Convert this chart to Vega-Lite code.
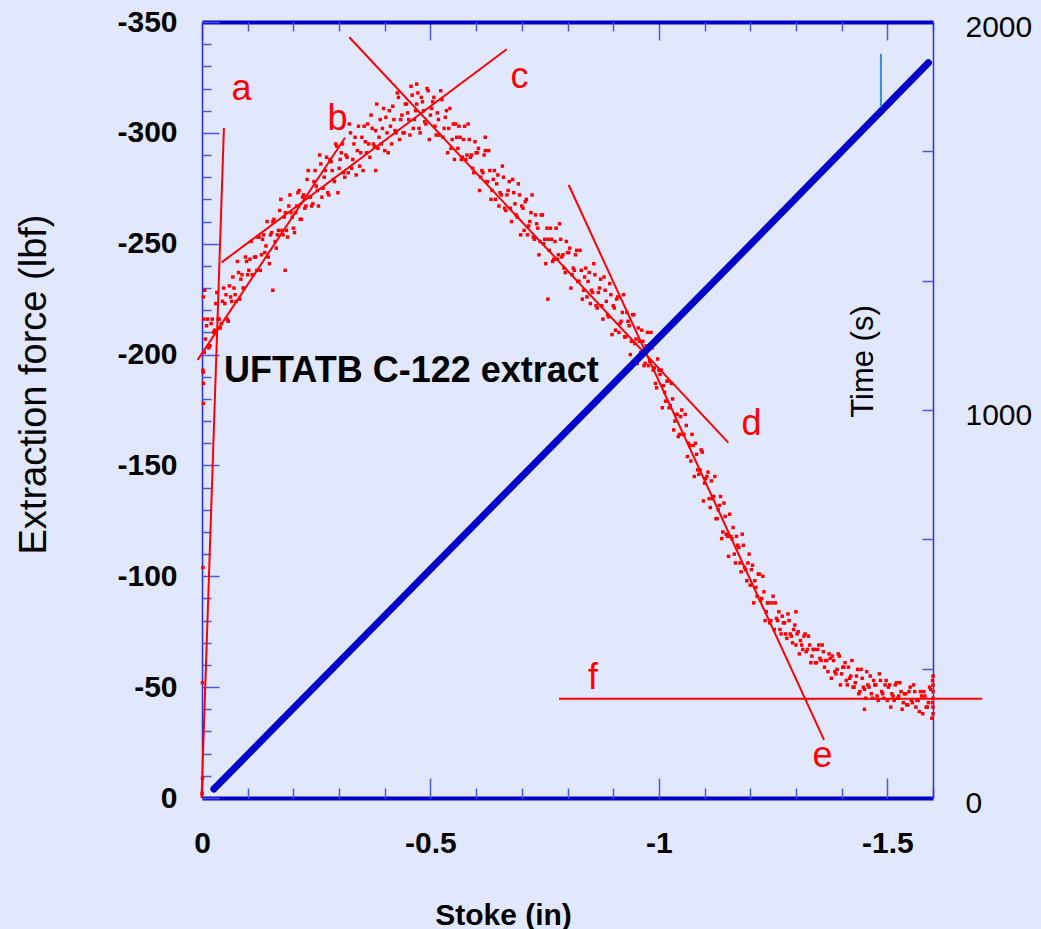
{
"$schema": "https://vega.github.io/schema/vega-lite/v6.json",
"width": 731, "height": 776,
"autosize": {"type": "none"},
"padding": {"left": 202, "top": 22, "right": 108, "bottom": 131},
"background": "#E1E8FD",
"config": {"view": {"stroke": null}, "font": "Liberation Sans", "axis": {"grid": false, "tickColor": "#4B55E6", "tickWidth": 1.5, "labelColor": "#000000", "titleColor": "#000000", "labelFont": "Liberation Sans", "titleFont": "Liberation Sans"}},
"datasets": {
"force": [
{"s":0,"f":-2},{"s":-0.001,"f":-9},{"s":-0.001,"f":-52},{"s":-0.002,"f":-104},{"s":-0.003,"f":-178},{"s":-0.003,"f":-187},{"s":-0.002,"f":-193},{"s":-0.004,"f":-216},{"s":-0.003,"f":-226},{"s":-0.006,"f":-229},
{"s":-0.155,"f":-229},{"s":-0.182,"f":-238},{"s":-0.757,"f":-225},{"s":-0.47,"f":-322},{"s":-0.38,"f":-283},{"s":-0.62,"f":-298},{"s":-1.3,"f":-84},{"s":-1.45,"f":-40},
{"s":-1.6,"f":-38},{"s":-1.6,"f":-45},{"s":-1.6,"f":-48},{"s":-1.6,"f":-51},{"s":-1.599,"f":-53},{"s":-1.6,"f":-55},{"s":-1.599,"f":-43},
{"s":-0.005,"f":-201},{"s":-0.01,"f":-213},{"s":-0.015,"f":-203},{"s":-0.02,"f":-214},{"s":-0.025,"f":-210},{"s":-0.03,"f":-223},{"s":-0.035,"f":-216},{"s":-0.04,"f":-212},{"s":-0.045,"f":-224},{"s":-0.05,"f":-223},
{"s":-0.055,"f":-216},{"s":-0.06,"f":-231},{"s":-0.065,"f":-224},{"s":-0.07,"f":-230},{"s":-0.075,"f":-224},{"s":-0.08,"f":-237},{"s":-0.085,"f":-234},{"s":-0.09,"f":-230},{"s":-0.095,"f":-244},{"s":-0.1,"f":-236},
{"s":-0.105,"f":-243},{"s":-0.11,"f":-236},{"s":-0.115,"f":-244},{"s":-0.12,"f":-238},{"s":-0.125,"f":-253},{"s":-0.13,"f":-245},{"s":-0.135,"f":-254},{"s":-0.14,"f":-249},{"s":-0.145,"f":-244},{"s":-0.15,"f":-254},
{"s":-0.155,"f":-260},{"s":-0.16,"f":-251},{"s":-0.165,"f":-254},{"s":-0.17,"f":-265},{"s":-0.175,"f":-256},{"s":-0.18,"f":-262},{"s":-0.185,"f":-256},{"s":-0.19,"f":-267},{"s":-0.195,"f":-264},{"s":-0.2,"f":-257},
{"s":-0.205,"f":-264},{"s":-0.21,"f":-273},{"s":-0.215,"f":-261},{"s":-0.22,"f":-271},{"s":-0.225,"f":-266},{"s":-0.23,"f":-279},{"s":-0.235,"f":-271},{"s":-0.24,"f":-267},{"s":-0.245,"f":-278},{"s":-0.25,"f":-276},
{"s":-0.255,"f":-267},{"s":-0.26,"f":-286},{"s":-0.265,"f":-275},{"s":-0.27,"f":-283},{"s":-0.275,"f":-273},{"s":-0.28,"f":-288},{"s":-0.285,"f":-283},{"s":-0.29,"f":-278},{"s":-0.295,"f":-294},{"s":-0.3,"f":-284},
{"s":-0.305,"f":-291},{"s":-0.31,"f":-282},{"s":-0.315,"f":-290},{"s":-0.32,"f":-282},{"s":-0.325,"f":-300},{"s":-0.33,"f":-288},{"s":-0.335,"f":-298},{"s":-0.34,"f":-292},{"s":-0.345,"f":-285},{"s":-0.35,"f":-298},
{"s":-0.355,"f":-303},{"s":-0.36,"f":-291},{"s":-0.365,"f":-295},{"s":-0.37,"f":-308},{"s":-0.375,"f":-295},{"s":-0.38,"f":-301},{"s":-0.385,"f":-293},{"s":-0.39,"f":-306},{"s":-0.395,"f":-302},{"s":-0.4,"f":-292},
{"s":-0.405,"f":-300},{"s":-0.41,"f":-310},{"s":-0.415,"f":-295},{"s":-0.42,"f":-306},{"s":-0.425,"f":-300},{"s":-0.43,"f":-316},{"s":-0.435,"f":-306},{"s":-0.44,"f":-300},{"s":-0.445,"f":-313},{"s":-0.45,"f":-309},
{"s":-0.455,"f":-299},{"s":-0.46,"f":-317},{"s":-0.465,"f":-306},{"s":-0.47,"f":-313},{"s":-0.475,"f":-302},{"s":-0.48,"f":-316},{"s":-0.485,"f":-310},{"s":-0.49,"f":-304},{"s":-0.495,"f":-319},{"s":-0.5,"f":-308},
{"s":-0.505,"f":-314},{"s":-0.51,"f":-303},{"s":-0.515,"f":-309},{"s":-0.52,"f":-299},{"s":-0.525,"f":-315},{"s":-0.53,"f":-302},{"s":-0.535,"f":-310},{"s":-0.54,"f":-302},{"s":-0.545,"f":-293},{"s":-0.55,"f":-304},
{"s":-0.555,"f":-304},{"s":-0.56,"f":-293},{"s":-0.565,"f":-298},{"s":-0.57,"f":-289},{"s":-0.575,"f":-303},{"s":-0.58,"f":-290},{"s":-0.585,"f":-297},{"s":-0.59,"f":-290},{"s":-0.595,"f":-282},{"s":-0.6,"f":-291},
{"s":-0.605,"f":-293},{"s":-0.61,"f":-280},{"s":-0.615,"f":-282},{"s":-0.62,"f":-292},{"s":-0.625,"f":-278},{"s":-0.63,"f":-283},{"s":-0.635,"f":-274},{"s":-0.64,"f":-283},{"s":-0.645,"f":-277},{"s":-0.65,"f":-267},
{"s":-0.655,"f":-272},{"s":-0.66,"f":-280},{"s":-0.665,"f":-265},{"s":-0.67,"f":-274},{"s":-0.675,"f":-266},{"s":-0.68,"f":-279},{"s":-0.685,"f":-268},{"s":-0.69,"f":-262},{"s":-0.695,"f":-272},{"s":-0.7,"f":-267},
{"s":-0.705,"f":-256},{"s":-0.71,"f":-270},{"s":-0.715,"f":-258},{"s":-0.72,"f":-264},{"s":-0.725,"f":-253},{"s":-0.73,"f":-263},{"s":-0.735,"f":-257},{"s":-0.74,"f":-251},{"s":-0.745,"f":-263},{"s":-0.75,"f":-252},
{"s":-0.755,"f":-257},{"s":-0.76,"f":-247},{"s":-0.765,"f":-252},{"s":-0.77,"f":-243},{"s":-0.775,"f":-257},{"s":-0.78,"f":-245},{"s":-0.785,"f":-252},{"s":-0.79,"f":-245},{"s":-0.795,"f":-237},{"s":-0.8,"f":-246},
{"s":-0.805,"f":-248},{"s":-0.81,"f":-236},{"s":-0.815,"f":-238},{"s":-0.82,"f":-247},{"s":-0.825,"f":-233},{"s":-0.83,"f":-238},{"s":-0.835,"f":-229},{"s":-0.84,"f":-239},{"s":-0.845,"f":-233},{"s":-0.85,"f":-223},
{"s":-0.855,"f":-228},{"s":-0.86,"f":-236},{"s":-0.865,"f":-221},{"s":-0.87,"f":-230},{"s":-0.875,"f":-222},{"s":-0.88,"f":-235},{"s":-0.885,"f":-224},{"s":-0.89,"f":-217},{"s":-0.895,"f":-227},{"s":-0.9,"f":-222},
{"s":-0.905,"f":-211},{"s":-0.91,"f":-226},{"s":-0.915,"f":-214},{"s":-0.92,"f":-219},{"s":-0.925,"f":-208},{"s":-0.93,"f":-219},{"s":-0.935,"f":-213},{"s":-0.94,"f":-206},{"s":-0.945,"f":-218},{"s":-0.95,"f":-207},
{"s":-0.955,"f":-212},{"s":-0.96,"f":-201},{"s":-0.965,"f":-206},{"s":-0.97,"f":-196},{"s":-0.975,"f":-210},{"s":-0.98,"f":-197},{"s":-0.985,"f":-203},{"s":-0.99,"f":-194},{"s":-0.995,"f":-185},{"s":-1.0,"f":-193},
{"s":-1.005,"f":-193},{"s":-1.01,"f":-186},{"s":-1.015,"f":-179},{"s":-1.02,"f":-188},{"s":-1.025,"f":-177},{"s":-1.03,"f":-180},{"s":-1.035,"f":-170},{"s":-1.04,"f":-173},{"s":-1.045,"f":-164},{"s":-1.05,"f":-175},
{"s":-1.055,"f":-164},{"s":-1.06,"f":-168},{"s":-1.065,"f":-160},{"s":-1.07,"f":-152},{"s":-1.075,"f":-159},{"s":-1.08,"f":-160},{"s":-1.085,"f":-148},{"s":-1.09,"f":-148},{"s":-1.095,"f":-156},{"s":-1.1,"f":-142},
{"s":-1.105,"f":-145},{"s":-1.11,"f":-135},{"s":-1.115,"f":-143},{"s":-1.12,"f":-136},{"s":-1.125,"f":-126},{"s":-1.13,"f":-130},{"s":-1.135,"f":-136},{"s":-1.14,"f":-120},{"s":-1.145,"f":-127},{"s":-1.15,"f":-118},
{"s":-1.155,"f":-128},{"s":-1.16,"f":-117},{"s":-1.165,"f":-110},{"s":-1.17,"f":-118},{"s":-1.175,"f":-113},{"s":-1.18,"f":-102},{"s":-1.185,"f":-114},{"s":-1.19,"f":-103},{"s":-1.195,"f":-106},{"s":-1.2,"f":-96},
{"s":-1.205,"f":-105},{"s":-1.21,"f":-98},{"s":-1.215,"f":-91},{"s":-1.22,"f":-101},{"s":-1.225,"f":-90},{"s":-1.23,"f":-93},{"s":-1.235,"f":-84},{"s":-1.24,"f":-88},{"s":-1.245,"f":-80},{"s":-1.25,"f":-91},
{"s":-1.255,"f":-88},{"s":-1.26,"f":-80},{"s":-1.265,"f":-76},{"s":-1.27,"f":-82},{"s":-1.275,"f":-79},{"s":-1.28,"f":-72},{"s":-1.285,"f":-80},{"s":-1.29,"f":-73},{"s":-1.295,"f":-76},{"s":-1.3,"f":-69},
{"s":-1.305,"f":-75},{"s":-1.31,"f":-71},{"s":-1.315,"f":-67},{"s":-1.32,"f":-74},{"s":-1.325,"f":-67},{"s":-1.33,"f":-69},{"s":-1.335,"f":-64},{"s":-1.34,"f":-67},{"s":-1.345,"f":-61},{"s":-1.35,"f":-69},
{"s":-1.355,"f":-62},{"s":-1.36,"f":-66},{"s":-1.365,"f":-62},{"s":-1.37,"f":-57},{"s":-1.375,"f":-63},{"s":-1.38,"f":-64},{"s":-1.385,"f":-57},{"s":-1.39,"f":-58},{"s":-1.395,"f":-64},{"s":-1.4,"f":-56},
{"s":-1.405,"f":-59},{"s":-1.41,"f":-53},{"s":-1.415,"f":-59},{"s":-1.42,"f":-55},{"s":-1.425,"f":-50},{"s":-1.43,"f":-52},{"s":-1.435,"f":-58},{"s":-1.44,"f":-48},{"s":-1.445,"f":-54},{"s":-1.45,"f":-49},
{"s":-1.455,"f":-57},{"s":-1.46,"f":-50},{"s":-1.465,"f":-47},{"s":-1.47,"f":-53},{"s":-1.475,"f":-51},{"s":-1.48,"f":-44},{"s":-1.485,"f":-53},{"s":-1.49,"f":-47},{"s":-1.495,"f":-51},{"s":-1.5,"f":-44},
{"s":-1.505,"f":-51},{"s":-1.51,"f":-47},{"s":-1.515,"f":-44},{"s":-1.52,"f":-52},{"s":-1.525,"f":-46},{"s":-1.53,"f":-48},{"s":-1.535,"f":-43},{"s":-1.54,"f":-47},{"s":-1.545,"f":-42},{"s":-1.55,"f":-50},
{"s":-1.555,"f":-43},{"s":-1.56,"f":-48},{"s":-1.565,"f":-44},{"s":-1.57,"f":-39},{"s":-1.575,"f":-46},{"s":-1.58,"f":-48},{"s":-1.585,"f":-41},{"s":-1.59,"f":-43},{"s":-1.595,"f":-49},{"s":-1.6,"f":-41},
{"s":-0.0025,"f":-192},{"s":-0.0075,"f":-207},{"s":-0.0125,"f":-216},{"s":-0.0175,"f":-204},{"s":-0.0225,"f":-216},{"s":-0.0275,"f":-211},{"s":-0.0325,"f":-228},{"s":-0.0375,"f":-216},{"s":-0.0425,"f":-214},{"s":-0.0475,"f":-230},
{"s":-0.0525,"f":-227},{"s":-0.0575,"f":-215},{"s":-0.0625,"f":-226},{"s":-0.0675,"f":-235},{"s":-0.0725,"f":-227},{"s":-0.0775,"f":-242},{"s":-0.0825,"f":-225},{"s":-0.0875,"f":-236},{"s":-0.0925,"f":-230},{"s":-0.0975,"f":-242},
{"s":-0.1025,"f":-238},{"s":-0.1075,"f":-251},{"s":-0.1125,"f":-236},{"s":-0.1175,"f":-244},{"s":-0.1225,"f":-253},{"s":-0.1275,"f":-238},{"s":-0.1325,"f":-252},{"s":-0.1375,"f":-246},{"s":-0.1425,"f":-260},{"s":-0.1475,"f":-241},
{"s":-0.1525,"f":-255},{"s":-0.1575,"f":-261},{"s":-0.1625,"f":-248},{"s":-0.1675,"f":-256},{"s":-0.1725,"f":-270},{"s":-0.1775,"f":-254},{"s":-0.1825,"f":-264},{"s":-0.1875,"f":-253},{"s":-0.1925,"f":-272},{"s":-0.1975,"f":-262},
{"s":-0.2025,"f":-255},{"s":-0.2075,"f":-267},{"s":-0.2125,"f":-274},{"s":-0.2175,"f":-261},{"s":-0.2225,"f":-272},{"s":-0.2275,"f":-267},{"s":-0.2325,"f":-283},{"s":-0.2375,"f":-271},{"s":-0.2425,"f":-268},{"s":-0.2475,"f":-283},
{"s":-0.2525,"f":-274},{"s":-0.2575,"f":-290},{"s":-0.2625,"f":-271},{"s":-0.2675,"f":-280},{"s":-0.2725,"f":-289},{"s":-0.2775,"f":-272},{"s":-0.2825,"f":-287},{"s":-0.2875,"f":-279},{"s":-0.2925,"f":-295},{"s":-0.2975,"f":-273},
{"s":-0.3025,"f":-288},{"s":-0.3075,"f":-295},{"s":-0.3125,"f":-280},{"s":-0.3175,"f":-289},{"s":-0.3225,"f":-304},{"s":-0.3275,"f":-284},{"s":-0.3325,"f":-295},{"s":-0.3375,"f":-281},{"s":-0.3425,"f":-303},{"s":-0.3475,"f":-291},
{"s":-0.3525,"f":-283},{"s":-0.3575,"f":-296},{"s":-0.3625,"f":-304},{"s":-0.3675,"f":-289},{"s":-0.3725,"f":-302},{"s":-0.3775,"f":-294},{"s":-0.3825,"f":-313},{"s":-0.3875,"f":-298},{"s":-0.3925,"f":-295},{"s":-0.3975,"f":-311},
{"s":-0.4025,"f":-307},{"s":-0.4075,"f":-291},{"s":-0.4125,"f":-303},{"s":-0.4175,"f":-312},{"s":-0.4225,"f":-301},{"s":-0.4275,"f":-318},{"s":-0.4325,"f":-297},{"s":-0.4375,"f":-308},{"s":-0.4425,"f":-300},{"s":-0.4475,"f":-313},
{"s":-0.4525,"f":-306},{"s":-0.4575,"f":-321},{"s":-0.4625,"f":-302},{"s":-0.4675,"f":-310},{"s":-0.4725,"f":-318},{"s":-0.4775,"f":-300},{"s":-0.4825,"f":-314},{"s":-0.4875,"f":-305},{"s":-0.4925,"f":-320},{"s":-0.4975,"f":-297},
{"s":-0.5025,"f":-311},{"s":-0.5075,"f":-316},{"s":-0.5125,"f":-299},{"s":-0.5175,"f":-306},{"s":-0.5225,"f":-319},{"s":-0.5275,"f":-298},{"s":-0.5325,"f":-307},{"s":-0.5375,"f":-291},{"s":-0.5425,"f":-311},{"s":-0.5475,"f":-297},
{"s":-0.5525,"f":-288},{"s":-0.5575,"f":-298},{"s":-0.5625,"f":-303},{"s":-0.5675,"f":-288},{"s":-0.5725,"f":-297},{"s":-0.5775,"f":-288},{"s":-0.5825,"f":-304},{"s":-0.5875,"f":-289},{"s":-0.5925,"f":-284},{"s":-0.5975,"f":-296},
{"s":-0.6025,"f":-291},{"s":-0.6075,"f":-274},{"s":-0.6125,"f":-283},{"s":-0.6175,"f":-290},{"s":-0.6225,"f":-278},{"s":-0.6275,"f":-292},{"s":-0.6325,"f":-270},{"s":-0.6375,"f":-279},{"s":-0.6425,"f":-270},{"s":-0.6475,"f":-281},
{"s":-0.6525,"f":-273},{"s":-0.6575,"f":-285},{"s":-0.6625,"f":-266},{"s":-0.6675,"f":-272},{"s":-0.6725,"f":-278},{"s":-0.6775,"f":-260},{"s":-0.6825,"f":-273},{"s":-0.6875,"f":-263},{"s":-0.6925,"f":-277},{"s":-0.6975,"f":-254},
{"s":-0.7025,"f":-266},{"s":-0.7075,"f":-269},{"s":-0.7125,"f":-254},{"s":-0.7175,"f":-260},{"s":-0.7225,"f":-272},{"s":-0.7275,"f":-252},{"s":-0.7325,"f":-259},{"s":-0.7375,"f":-245},{"s":-0.7425,"f":-263},{"s":-0.7475,"f":-250},
{"s":-0.7525,"f":-241},{"s":-0.7575,"f":-252},{"s":-0.7625,"f":-257},{"s":-0.7675,"f":-242},{"s":-0.7725,"f":-251},{"s":-0.7775,"f":-243},{"s":-0.7825,"f":-259},{"s":-0.7875,"f":-244},{"s":-0.7925,"f":-239},{"s":-0.7975,"f":-251},
{"s":-0.8025,"f":-246},{"s":-0.8075,"f":-230},{"s":-0.8125,"f":-239},{"s":-0.8175,"f":-245},{"s":-0.8225,"f":-233},{"s":-0.8275,"f":-247},{"s":-0.8325,"f":-225},{"s":-0.8375,"f":-235},{"s":-0.8425,"f":-226},{"s":-0.8475,"f":-237},
{"s":-0.8525,"f":-229},{"s":-0.8575,"f":-241},{"s":-0.8625,"f":-222},{"s":-0.8675,"f":-228},{"s":-0.8725,"f":-234},{"s":-0.8775,"f":-216},{"s":-0.8825,"f":-229},{"s":-0.8875,"f":-218},{"s":-0.8925,"f":-232},{"s":-0.8975,"f":-209},
{"s":-0.9025,"f":-221},{"s":-0.9075,"f":-225},{"s":-0.9125,"f":-210},{"s":-0.9175,"f":-215},{"s":-0.9225,"f":-227},{"s":-0.9275,"f":-208},{"s":-0.9325,"f":-215},{"s":-0.9375,"f":-200},{"s":-0.9425,"f":-218},{"s":-0.9475,"f":-205},
{"s":-0.9525,"f":-196},{"s":-0.9575,"f":-206},{"s":-0.9625,"f":-211},{"s":-0.9675,"f":-195},{"s":-0.9725,"f":-204},{"s":-0.9775,"f":-195},{"s":-0.9825,"f":-210},{"s":-0.9875,"f":-193},{"s":-0.9925,"f":-187},{"s":-0.9975,"f":-198},
{"s":-1.0025,"f":-191},{"s":-1.0075,"f":-176},{"s":-1.0125,"f":-183},{"s":-1.0175,"f":-188},{"s":-1.0225,"f":-176},{"s":-1.0275,"f":-187},{"s":-1.0325,"f":-166},{"s":-1.0375,"f":-173},{"s":-1.0425,"f":-163},{"s":-1.0475,"f":-172},
{"s":-1.0525,"f":-164},{"s":-1.0575,"f":-173},{"s":-1.0625,"f":-154},{"s":-1.0675,"f":-159},{"s":-1.0725,"f":-164},{"s":-1.0775,"f":-145},{"s":-1.0825,"f":-155},{"s":-1.0875,"f":-146},{"s":-1.0925,"f":-157},{"s":-1.0975,"f":-134},
{"s":-1.1025,"f":-144},{"s":-1.1075,"f":-147},{"s":-1.1125,"f":-131},{"s":-1.1175,"f":-135},{"s":-1.1225,"f":-145},{"s":-1.1275,"f":-126},{"s":-1.1325,"f":-132},{"s":-1.1375,"f":-117},{"s":-1.1425,"f":-133},{"s":-1.1475,"f":-119},
{"s":-1.1525,"f":-109},{"s":-1.1575,"f":-118},{"s":-1.1625,"f":-122},{"s":-1.1675,"f":-106},{"s":-1.1725,"f":-114},{"s":-1.1775,"f":-106},{"s":-1.1825,"f":-119},{"s":-1.1875,"f":-104},{"s":-1.1925,"f":-98},{"s":-1.1975,"f":-110},
{"s":-1.2025,"f":-103},{"s":-1.2075,"f":-88},{"s":-1.2125,"f":-95},{"s":-1.2175,"f":-101},{"s":-1.2225,"f":-89},{"s":-1.2275,"f":-100},{"s":-1.2325,"f":-80},{"s":-1.2375,"f":-88},{"s":-1.2425,"f":-79},{"s":-1.2475,"f":-88},
{"s":-1.2525,"f":-76},{"s":-1.2575,"f":-81},{"s":-1.2625,"f":-84},{"s":-1.2675,"f":-74},{"s":-1.2725,"f":-79},{"s":-1.2775,"f":-74},{"s":-1.2825,"f":-83},{"s":-1.2875,"f":-74},{"s":-1.2925,"f":-70},{"s":-1.2975,"f":-78},
{"s":-1.3025,"f":-74},{"s":-1.3075,"f":-65},{"s":-1.3125,"f":-69},{"s":-1.3175,"f":-73},{"s":-1.3225,"f":-66},{"s":-1.3275,"f":-73},{"s":-1.3325,"f":-61},{"s":-1.3375,"f":-67},{"s":-1.3425,"f":-61},{"s":-1.3475,"f":-67},
{"s":-1.3525,"f":-63},{"s":-1.3575,"f":-69},{"s":-1.3625,"f":-59},{"s":-1.3675,"f":-62},{"s":-1.3725,"f":-65},{"s":-1.3775,"f":-54},{"s":-1.3825,"f":-62},{"s":-1.3875,"f":-56},{"s":-1.3925,"f":-65},{"s":-1.3975,"f":-51},
{"s":-1.4025,"f":-59},{"s":-1.4075,"f":-61},{"s":-1.4125,"f":-51},{"s":-1.4175,"f":-54},{"s":-1.4225,"f":-62},{"s":-1.4275,"f":-50},{"s":-1.4325,"f":-55},{"s":-1.4375,"f":-47},{"s":-1.4425,"f":-58},{"s":-1.4475,"f":-50},
{"s":-1.4525,"f":-45},{"s":-1.4575,"f":-51},{"s":-1.4625,"f":-55},{"s":-1.4675,"f":-45},{"s":-1.4725,"f":-51},{"s":-1.4775,"f":-46},{"s":-1.4825,"f":-56},{"s":-1.4875,"f":-48},{"s":-1.4925,"f":-45},{"s":-1.4975,"f":-53},
{"s":-1.5025,"f":-50},{"s":-1.5075,"f":-41},{"s":-1.5125,"f":-46},{"s":-1.5175,"f":-51},{"s":-1.5225,"f":-45},{"s":-1.5275,"f":-52},{"s":-1.5325,"f":-40},{"s":-1.5375,"f":-47},{"s":-1.5425,"f":-42},{"s":-1.5475,"f":-48},
{"s":-1.5525,"f":-44},{"s":-1.5575,"f":-51},{"s":-1.5625,"f":-41},{"s":-1.5675,"f":-44},{"s":-1.5725,"f":-48},{"s":-1.5775,"f":-38},{"s":-1.5825,"f":-46},{"s":-1.5875,"f":-41},{"s":-1.5925,"f":-50},{"s":-1.5975,"f":-36}
],
"tangents": [
{"id":"a","s":0.001,"f":0},{"id":"a","s":-0.048,"f":-302.2},
{"id":"b","s":0.0094,"f":-197.6},{"id":"b","s":-0.313,"f":-297.8},
{"id":"c","s":-0.0431,"f":-241.6},{"id":"c","s":-0.6669,"f":-337.7},
{"id":"d","s":-0.3224,"f":-343.1},{"id":"d","s":-1.1519,"f":-160.3},
{"id":"e","s":-0.8026,"f":-276.5},{"id":"e","s":-1.3614,"f":-26.2},
{"id":"f","s":-0.7814,"f":-44.8},{"id":"f","s":-1.7078,"f":-44.8}
],
"letters": [
{"label":"a","s":-0.0865,"f":-314.8},{"label":"b","s":-0.2966,"f":-301.3},{"label":"c","s":-0.6949,"f":-320.2},
{"label":"d","s":-1.2027,"f":-163.7},{"label":"e","s":-1.3581,"f":-14.0},{"label":"f","s":-0.8558,"f":-49.2}
],
"note": [{"label":"UFTATB C-122 extract","s":-0.0482,"f":-187.8}],
"time": [{"s":-0.026,"t":23},{"s":-0.4,"t":470},{"s":-0.8,"t":948},{"s":-1.2,"t":1426},{"s":-1.59,"t":1895}],
"marker": [{"s":-1.486,"t":1780,"t2":1918}]
},
"resolve": {"scale": {"y": "independent"}, "axis": {"x": "independent", "y": "independent"}},
"layer": [
{
"data": {"name": "force"},
"mark": {"type": "point", "shape": "square", "filled": true, "size": 12, "color": "#FF0000", "opacity": 1},
"encoding": {
"x": {"field": "s", "type": "quantitative", "scale": {"domain": [0, -1.6], "nice": false, "zero": false},
 "axis": {"orient": "bottom", "values": [0, -0.5, -1, -1.5], "ticks": false, "domain": true, "domainColor": "#0000CC", "domainWidth": 4, "labelFontSize": 30, "labelFontWeight": "bold", "labelPadding": 30, "labelFlush": false, "labelOverlap": false, "labelExpr": "datum.value < 0 ? '-' + format(-datum.value, '') : '0'", "title": "Stoke (in)", "titleFontSize": 30, "titleFontWeight": "bold", "titleX": 301, "titleY": 126, "titleBaseline": "alphabetic", "titleAlign": "center"}},
"y": {"field": "f", "type": "quantitative", "scale": {"domain": [0, -350], "nice": false, "zero": false},
 "axis": {"orient": "left", "values": [0, -50, -100, -150, -200, -250, -300, -350], "ticks": false, "domain": true, "domainColor": "#2A2AE0", "domainWidth": 1.5, "labelFontSize": 30, "labelFontWeight": "bold", "labelPadding": 25, "labelOverlap": false, "labelExpr": "datum.value < 0 ? '-' + format(-datum.value, 'd') : '0'", "title": "Extraction force (lbf)", "titleFontSize": 38, "titleFontWeight": "normal", "titleX": -157, "titleY": 362, "titleBaseline": "alphabetic", "titleAngle": -90, "titleAlign": "center"}}
}
},
{
"data": {"name": "tangents"},
"mark": {"type": "line", "color": "#FF0000", "strokeWidth": 2},
"encoding": {
"x": {"field": "s", "type": "quantitative", "scale": {"domain": [0, -1.6], "nice": false, "zero": false},
 "axis": {"orient": "bottom", "values": [0, -0.5, -1, -1.5], "tickSize": -20, "labels": false, "domain": false, "title": null}},
"y": {"field": "f", "type": "quantitative", "scale": {"domain": [0, -350], "nice": false, "zero": false},
 "axis": {"orient": "left", "values": [0, -50, -100, -150, -200, -250, -300, -350], "tickSize": -17, "labels": false, "domain": false, "title": null}},
"detail": {"field": "id", "type": "nominal"}
}
},
{
"data": {"name": "letters"},
"mark": {"type": "text", "color": "#FF0000", "fontSize": 36, "align": "center", "baseline": "alphabetic", "font": "Liberation Sans"},
"encoding": {
"x": {"field": "s", "type": "quantitative", "scale": {"domain": [0, -1.6], "nice": false, "zero": false},
 "axis": {"orient": "bottom", "values": [-0.1, -0.2, -0.3, -0.4, -0.6, -0.7, -0.8, -0.9, -1.1, -1.2, -1.3, -1.4, -1.6], "tickSize": -10, "labels": false, "domain": false, "title": null}},
"y": {"field": "f", "type": "quantitative", "scale": {"domain": [0, -350], "nice": false, "zero": false},
 "axis": {"orient": "left", "values": [-10, -20, -30, -40, -60, -70, -80, -90, -110, -120, -130, -140, -160, -170, -180, -190, -210, -220, -230, -240, -260, -270, -280, -290, -310, -320, -330, -340], "tickSize": -9, "labels": false, "domain": false, "title": null}},
"text": {"field": "label", "type": "nominal"}
}
},
{
"data": {"name": "note"},
"mark": {"type": "text", "color": "#000000", "fontSize": 36, "fontWeight": "bold", "align": "left", "baseline": "alphabetic", "font": "Liberation Sans"},
"encoding": {
"x": {"field": "s", "type": "quantitative", "scale": {"domain": [0, -1.6], "nice": false, "zero": false},
 "axis": {"orient": "top", "values": [0, -0.5, -1, -1.5], "tickSize": -18, "labels": false, "domain": true, "domainColor": "#0000CC", "domainWidth": 4, "title": null}},
"y": {"field": "f", "type": "quantitative", "scale": {"domain": [0, -350], "nice": false, "zero": false}, "axis": null},
"text": {"field": "label", "type": "nominal"}
}
},
{
"data": {"name": "time"},
"mark": {"type": "line", "color": "#0000CC", "strokeWidth": 7, "strokeCap": "round"},
"encoding": {
"x": {"field": "s", "type": "quantitative", "scale": {"domain": [0, -1.6], "nice": false, "zero": false},
 "axis": {"orient": "top", "values": [-0.1, -0.2, -0.3, -0.4, -0.6, -0.7, -0.8, -0.9, -1.1, -1.2, -1.3, -1.4, -1.6], "tickSize": -9, "labels": false, "domain": false, "title": null}},
"y": {"field": "t", "type": "quantitative", "scale": {"domain": [0, 2000], "nice": false, "zero": false},
 "axis": {"orient": "right", "values": [0, 1000, 2000], "ticks": false, "domain": true, "domainColor": "#3030E0", "domainWidth": 1.5, "labelFontSize": 30, "labelFontWeight": "normal", "labelPadding": 32, "labelAlign": "left", "labelOffset": 5, "labelOverlap": false, "labelExpr": "format(datum.value, 'd')", "title": "Time (s)", "titleFontSize": 31, "titleFontWeight": "normal", "titleAngle": -90, "titleX": -61, "titleY": 339, "titleBaseline": "alphabetic", "titleAlign": "center"}}
}
},
{
"data": {"name": "marker"},
"mark": {"type": "rule", "color": "#3C8DD0", "strokeWidth": 2},
"encoding": {
"x": {"field": "s", "type": "quantitative", "scale": {"domain": [0, -1.6], "nice": false, "zero": false}, "axis": null},
"y": {"field": "t", "type": "quantitative", "scale": {"domain": [0, 2000], "nice": false, "zero": false},
 "axis": {"orient": "right", "values": [333.33, 666.67, 1000, 1333.33, 1666.67], "tickSize": -11, "labels": false, "domain": false, "title": null}},
"y2": {"field": "t2"}
}
}
]
}
